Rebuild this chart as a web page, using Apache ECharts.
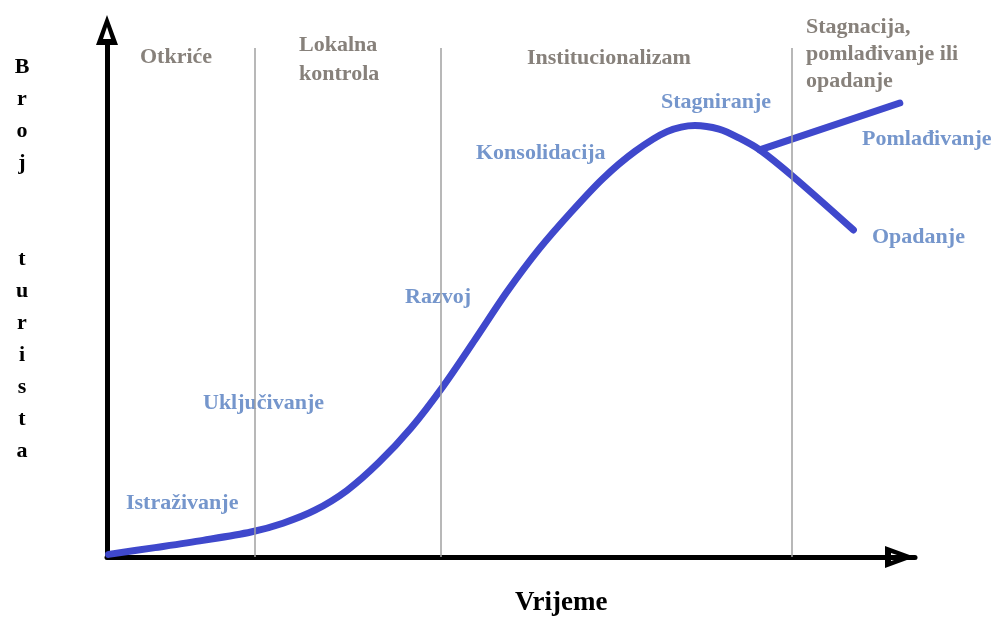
<!DOCTYPE html>
<html>
<head>
<meta charset="utf-8">
<script src="https://cdn.jsdelivr.net/npm/echarts@6/dist/echarts.min.js"></script>
<style>html,body{margin:0;padding:0;background:#fff;}#c{width:995px;height:617px;}</style>
</head>
<body>
<div id="c"></div>
<script>
// Curve of the tourism life cycle (x = time, y = number of tourists)
const curveX = [0.2, 6, 12, 18, 22, 26, 30, 34, 38, 42, 46, 50, 54, 58, 62, 66, 70, 73.5, 76.5, 79, 81.6, 85.8, 93.3];
const curveY = [0.5, 1.8, 3.2, 4.8, 6.5, 9.0, 12.8, 18.2, 24.8, 32.8, 41.8, 51.0, 59.2, 66.3, 72.8, 78.0, 81.8, 83.0, 82.3, 80.6, 78.3, 73.1, 62.9];
// Rejuvenation branch
const branchX = [81.6, 99.1];
const branchY = [78.3, 87.3];
// Phase dividers
const dividerX = [18.5, 41.75, 85.6];
const dividerTop = 97.9;
// Texts
const phaseLabels = ['Otkriće', 'Lokalna\nkontrola', 'Institucionalizam', 'Stagnacija,\npomlađivanje ili\nopadanje'];
const stageLabels = ['Istraživanje', 'Uključivanje', 'Razvoj', 'Konsolidacija', 'Stagniranje', 'Pomlađivanje', 'Opadanje'];
const xTitle = 'Vrijeme';
const yTitle = 'Broj  turista';

const chart = echarts.init(document.getElementById('c'), null, {renderer: 'canvas'});
const FONT = '"Liberation Serif", "Times New Roman", serif';
const GRAY = '#87817b';
const BLUE = '#7596cc';
const arrow = 'path://M11,0 L22,30 L0,30 Z M11,12 L7,24 L15,24 Z';

function txt(text, x, y, fill, size, lh, align) {
  return {type: 'text', silent: true, style: {text: text, x: x, y: y, fill: fill,
    font: 'bold ' + size + 'px ' + FONT, lineHeight: lh || size * 1.3,
    textAlign: align || 'left', textVerticalAlign: 'middle'}};
}

const yLetters = yTitle.split('').join('\n');

chart.setOption({
  animation: false,
  grid: {left: 107, right: 80, top: 45, bottom: 60},
  xAxis: {type: 'value', min: 0, max: 101,
    axisLine: {show: true, lineStyle: {color: '#000', width: 5}, symbol: ['none', arrow], symbolSize: [28, 30], symbolOffset: [0, -15]},
    axisTick: {show: false}, axisLabel: {show: false}, splitLine: {show: false}},
  yAxis: {type: 'value', min: 0, max: 98.46,
    axisLine: {show: true, onZero: false, lineStyle: {color: '#000', width: 5}, symbol: ['none', arrow], symbolSize: [22, 30], symbolOffset: [0, 15]},
    axisTick: {show: false}, axisLabel: {show: false}, splitLine: {show: false}},
  series: [
    {type: 'line', silent: true, symbol: 'none', z: 1,
      data: [],
      markLine: {silent: true, symbol: 'none', label: {show: false},
        lineStyle: {color: '#a0a0a0', width: 1.5, type: 'solid'},
        data: dividerX.map(x => [{coord: [x, 0]}, {coord: [x, dividerTop]}])}},
    {type: 'line', silent: true, symbol: 'none', smooth: 0.3, clip: false, z: 3,
      lineStyle: {color: '#3f48cc', width: 7, cap: 'round', join: 'round'},
      data: curveX.map((x, i) => [x, curveY[i]])},
    {type: 'line', silent: true, symbol: 'none', clip: false, z: 3,
      lineStyle: {color: '#3f48cc', width: 7, cap: 'round', join: 'round'},
      data: branchX.map((x, i) => [x, branchY[i]])}
  ],
  graphic: [
    txt(phaseLabels[0], 140, 57, GRAY, 22),
    txt(phaseLabels[1], 299, 60, GRAY, 22, 29),
    txt(phaseLabels[2], 527, 58, GRAY, 22),
    txt(phaseLabels[3], 806, 54, GRAY, 22, 27),
    txt(stageLabels[0], 126, 503, BLUE, 22),
    txt(stageLabels[1], 203, 403, BLUE, 22),
    txt(stageLabels[2], 405, 297, BLUE, 22),
    txt(stageLabels[3], 476, 153, BLUE, 22),
    txt(stageLabels[4], 661, 102, BLUE, 22),
    txt(stageLabels[5], 862, 139, BLUE, 22),
    txt(stageLabels[6], 872, 237, BLUE, 22),
    txt(xTitle, 515, 603, '#000', 27),
    txt(yLetters, 22, 259, '#000', 22, 32, 'center')
  ]
});
</script>
</body>
</html>
